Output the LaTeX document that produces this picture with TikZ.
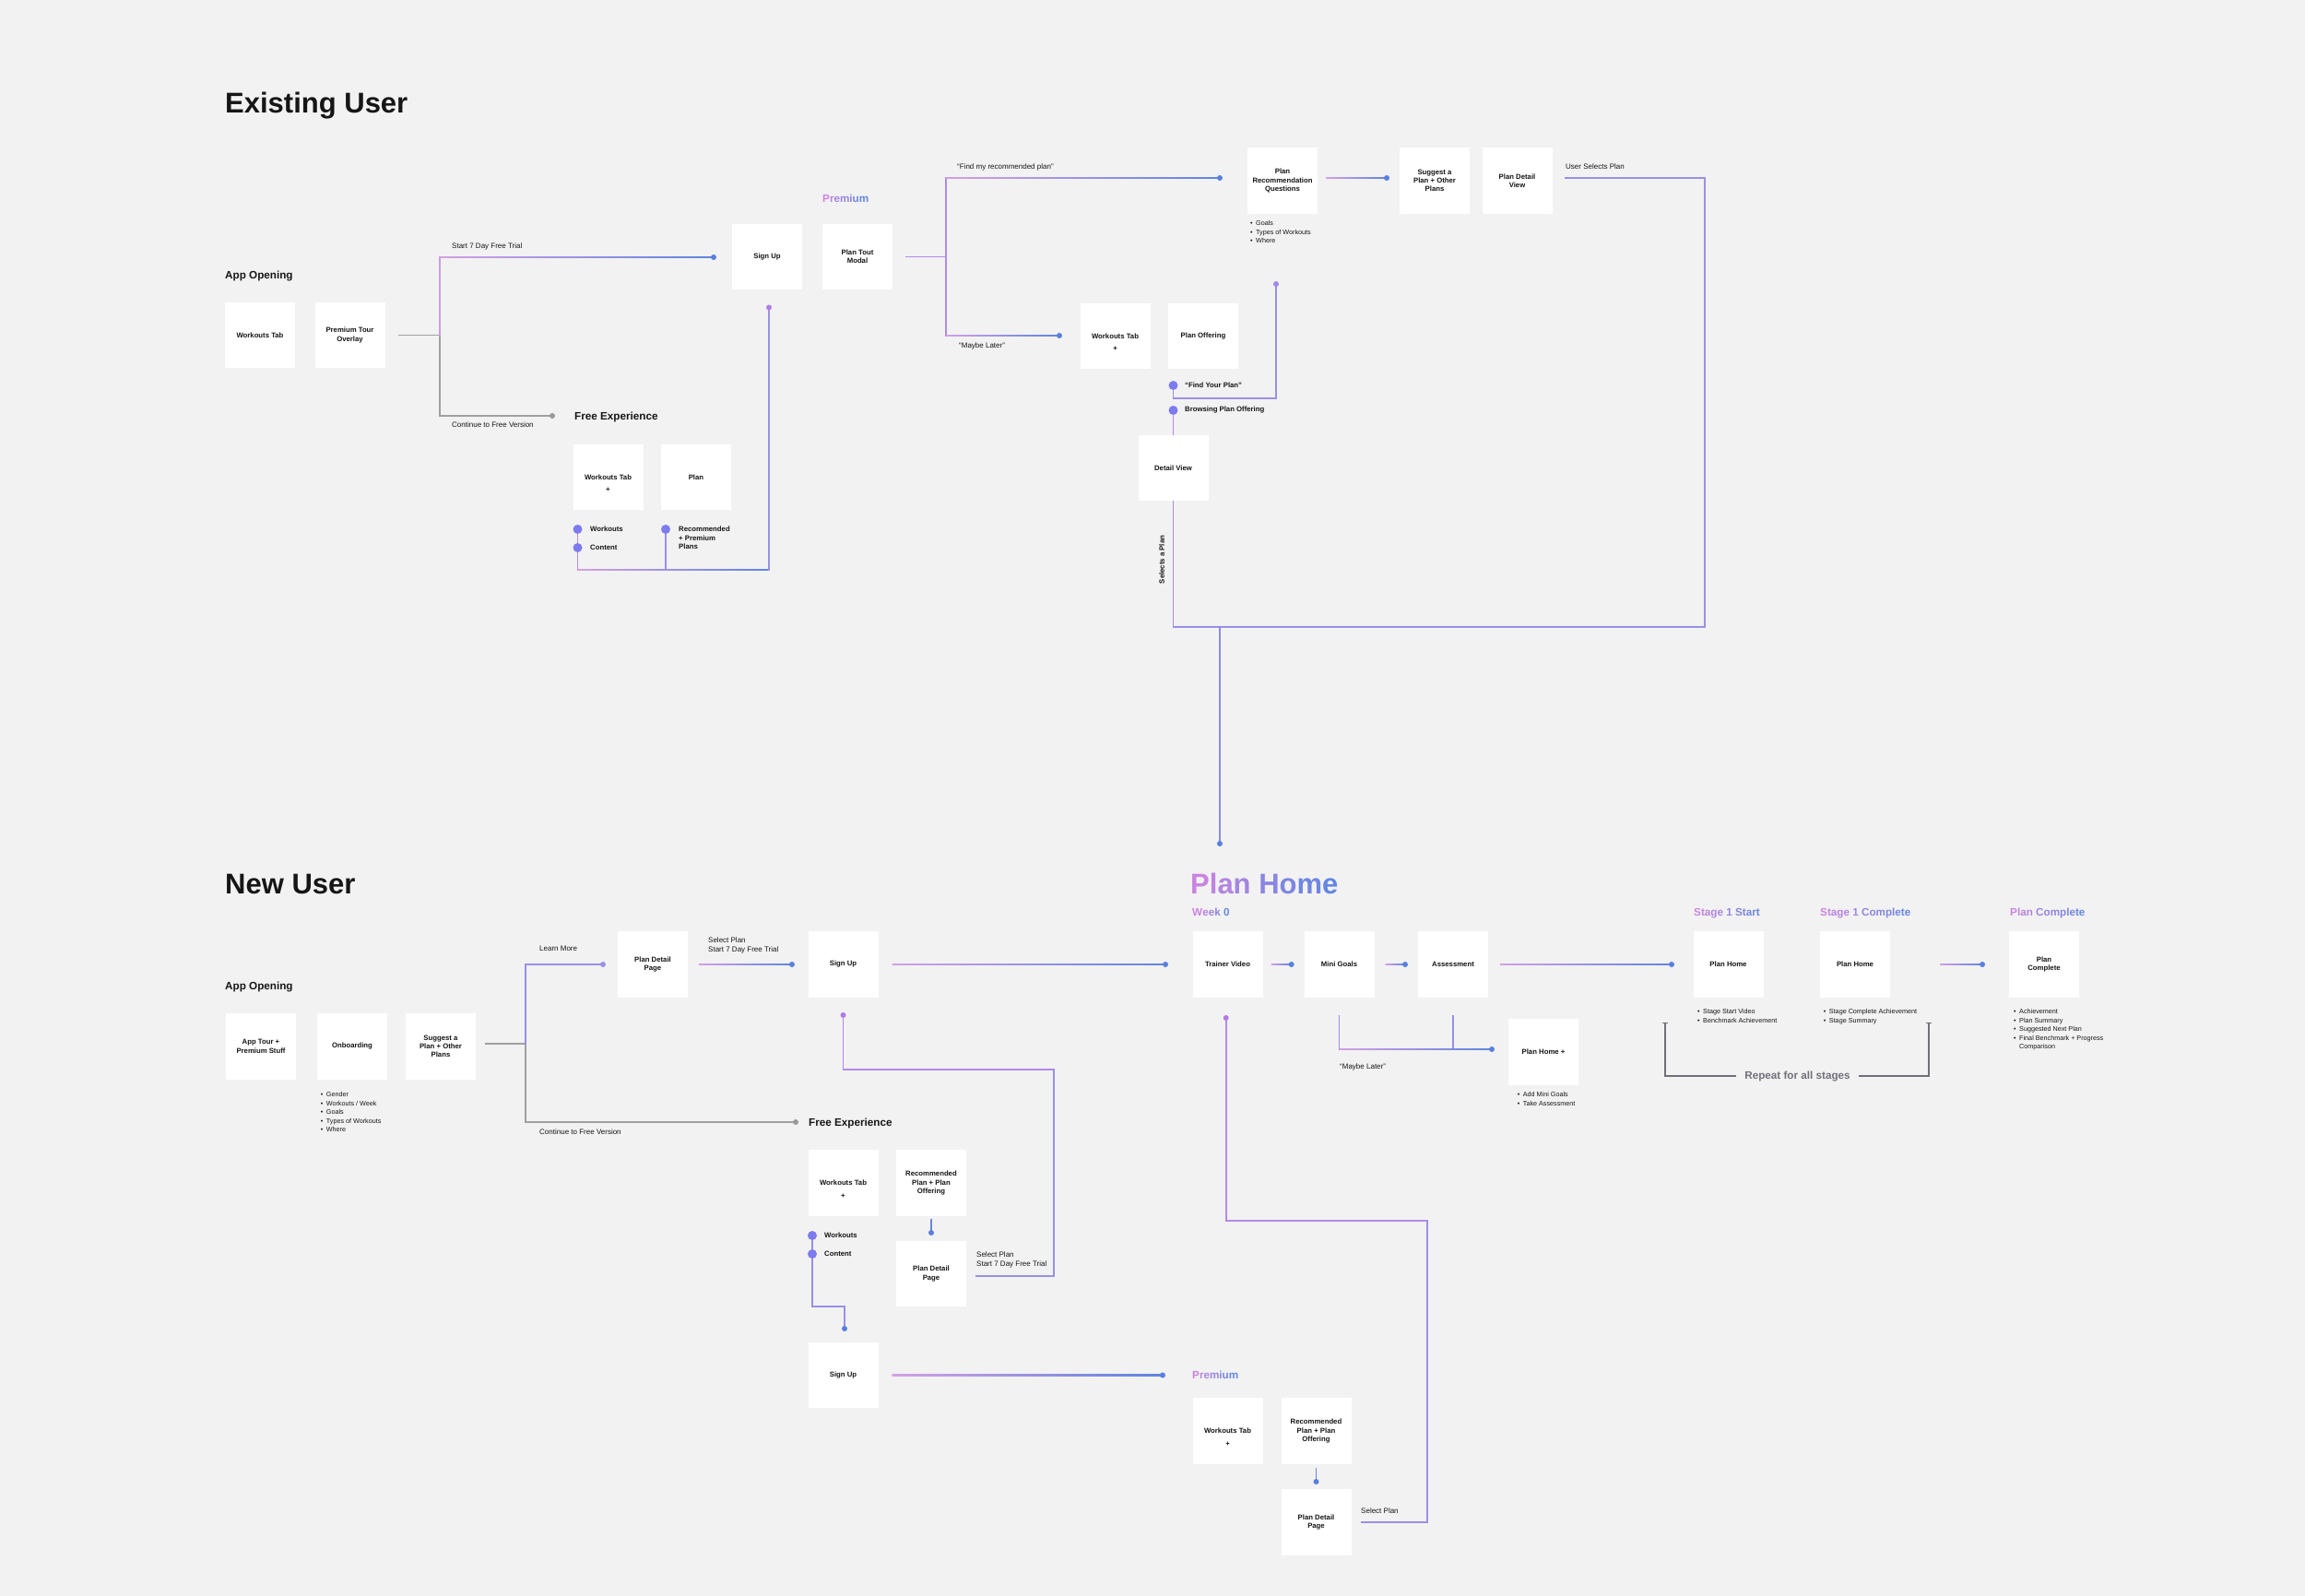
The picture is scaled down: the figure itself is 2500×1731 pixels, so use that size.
\documentclass[tikz,border=0pt]{standalone}
\usepackage{fontspec}
\setmainfont{Liberation Sans}
\usetikzlibrary{calc}
\definecolor{bg}{HTML}{F2F2F2}
\definecolor{gpk}{HTML}{D3A0E5}
\definecolor{gbl}{HTML}{5F84DF}
\definecolor{lav}{HTML}{9A90E6}
\definecolor{pur}{HTML}{B48AE6}
\definecolor{dblue}{HTML}{5A80DE}
\definecolor{dpur}{HTML}{B07CE6}
\definecolor{bigd}{HTML}{7E7BEE}
\definecolor{gline}{HTML}{A0A0A0}
\definecolor{gdot}{HTML}{999999}
\definecolor{rgray}{HTML}{70707A}
\definecolor{ink}{HTML}{161616}
\definecolor{tpk}{HTML}{CB84E0}
\definecolor{tbl}{HTML}{6486E2}
\newcommand\fBox{\bfseries\fontsize{7.75}{9.3}\selectfont}
\newcommand\fLbl{\fontsize{8}{9.3}\selectfont}
\newcommand\fBul{\fontsize{7.2}{9.5}\selectfont}
\newcommand\fSec{\bfseries\fontsize{11.7}{14}\selectfont}
\newcommand\fTtl{\bfseries\fontsize{31}{36}\selectfont}
\ExplSyntaxOn
\int_new:N \l__gt_i_int
\int_new:N \l__gt_n_int
\NewDocumentCommand \gradtext { m }
  {
    \int_set:Nn \l__gt_n_int { \str_count:n {#1} - 1 }
    \int_compare:nNnT { \l__gt_n_int } < { 1 } { \int_set:Nn \l__gt_n_int { 1 } }
    \int_zero:N \l__gt_i_int
    \str_map_inline:nn {#1}
      {
        \str_if_eq:nnTF { ##1 } { ~ }
          { \c_space_tl }
          { \textcolor { tpk!\int_eval:n { 100 - (100 * \l__gt_i_int) / \l__gt_n_int }!tbl } {##1} }
        \int_incr:N \l__gt_i_int
      }
  }
\ExplSyntaxOff
\newcommand\gradline[3]{\shade[left color=gpk,right color=gbl] ($(#1)+(#2,-0.8)$) rectangle ($(#3)+(0,0.8)$);}
\newcommand\smalldot[2]{\fill[#1] (#2) circle (3pt);}
\newcommand\bigdot[1]{\fill[bigd] (#1) circle (5pt);}
\tikzset{
 box/.style={fill=white, minimum width=76pt, minimum height=71.5pt, inner sep=0pt, align=center, font=\fBox, text=ink},
 plus/.style={inner sep=0pt, font=\fBox, text=ink},
 lbl/.style={anchor=west, inner sep=0pt, font=\fLbl, text=ink},
 blbl/.style={anchor=west, inner sep=0pt, font=\fBox, text=ink},
 mlbl/.style={anchor=base west, inner sep=0pt, font=\fLbl, text=ink},
 blist/.style={anchor=base west, inner sep=0pt, font=\fBul, text=ink},
 sec/.style={anchor=base west, inner sep=0pt, font=\fSec, text=ink},
 ttl/.style={anchor=base west, inner sep=0pt, font=\fTtl, text=ink},
 conn/.style={line width=1.6pt, line cap=rect},
}
\begin{document}
\begin{tikzpicture}[x=1pt,y=-1pt]
\fill[bg] (0,0) rectangle (2500,1731);
\useasboundingbox (0,0) rectangle (2500,1731);

% ================= EXISTING USER =================
\node[ttl] (t1) at (244,123) {Existing User};
\node[sec] (ao1) at (244,302) {App Opening};
\node[box] (wt1) at (282,363.5) {Workouts Tab};
\node[box] (pto) at (379.5,363.5) {Premium Tour\\Overlay};
\node[box] (su1) at (832,278.5) {Sign Up};
\node[box] (ptm) at (930,278.5) {Plan Tout\\Modal};
\node[sec] (prem1) at (892,219) {\gradtext{Premium}};
\node[sec] (fe1) at (623,455) {Free Experience};
\node[box] (fwt) at (659.5,517.5) {Workouts Tab};
\node[plus] (fwtp) at ($(fwt.center)+(0,14)$) {+};
\node[box] (fpl) at (755,517.5) {Plan};

\coordinate (j1) at (477,363.5);
\coordinate (j1t) at (477,279);
\coordinate (j1b) at (477,451);
\coordinate (dsu1) at (774,279);
\coordinate (dfe1) at (599,451);
\draw[conn,gline] ($(pto.east)+(15,0)$) -- (j1) -- (j1b) -- (dfe1);
\draw[conn,gpk!80!lav] (j1) -- (j1t);
\gradline{j1t}{0}{dsu1}
\smalldot{dblue}{dsu1}
\smalldot{gdot}{dfe1}
\node[lbl] (l1) at (490,267) {Start 7 Day Free Trial};
\node[lbl] (l2) at (490,461) {Continue to Free Version};

% free experience loop
\coordinate (dsu1b) at ($(su1.south)+(2,19)$);
\coordinate (bw1) at (626.5,574);
\coordinate (bc1) at (626.5,594);
\coordinate (bp1) at (722,574);
\coordinate (fl) at (626.5,618);
\coordinate (fm) at (722,618);
\coordinate (fr) at (834,618);
\draw[conn,pur] (bw1) -- (bc1) -- (fl);
\draw[conn,lav] (bp1) -- (fm);
\gradline{fl}{0}{fr}
\draw[conn,lav] (fr) -- (dsu1b);
\smalldot{dpur}{dsu1b}
\bigdot{bw1} \bigdot{bc1} \bigdot{bp1}
\node[blbl] (lw1) at (640,574) {Workouts};
\node[blbl] (lc1) at (640,594) {Content};
\node[blbl,anchor=base west] (lr1) at (736,576.7) {\begin{tabular}[t]{@{}l@{}}Recommended\\+ Premium\\Plans\end{tabular}};

% premium branch
\node[box] (pwt) at (1209.5,364.5) {Workouts Tab};
\node[plus] (pwtp) at ($(pwt.center)+(0,14)$) {+};
\node[box] (pof) at (1305,364.5) {Plan Offering};
\node[box] (prq) at (1391,196) {Plan\\Recommendation\\Questions};
\node[box] (sug) at (1556,196) {Suggest a\\Plan + Other\\Plans};
\node[box] (pdv) at (1645.5,196) {Plan Detail\\View};
\node[box] (dv) at (1272.5,507.5) {Detail View};

\coordinate (j2) at (1026,278.5);
\coordinate (j2t) at (1026,193);
\coordinate (j2b) at (1026,364);
\coordinate (dprq) at (1323,193);
\coordinate (dpwt) at (1149,364);
\draw[conn,pur] ($(ptm.east)+(15,0)$) -- (j2);
\draw[conn,pur!70!lav] (j2t) -- (j2b);
\gradline{j2t}{0}{dprq}
\gradline{j2b}{0}{dpwt}
\smalldot{dblue}{dprq}
\smalldot{dblue}{dpwt}
\node[lbl] (l3) at (1038,181) {“Find my recommended plan”};
\node[lbl] (l4) at (1040,375) {“Maybe Later”};

\node[blist] (bl1) at (1356,244.6) {\begin{tabular}[t]{@{}l@{\hspace{3.5pt}}l@{}}\textbullet&Goals\\\textbullet&Types of Workouts\\\textbullet&Where\end{tabular}};

\coordinate (sprq) at ($(prq.east)+(9,-3)$);
\coordinate (dsug) at (1504,193);
\gradline{sprq}{0}{dsug}
\smalldot{dblue}{dsug}

\coordinate (spdv) at ($(pdv.east)+(14,-3)$);
\coordinate (jr) at (1849,680);
\coordinate (jl) at (1272.5,680);
\coordinate (jm) at (1323,680);
\coordinate (dph) at (1323,915);
\draw[conn,lav] (spdv) -| (jr) -- (jl);
\draw[conn,pur!70!lav] (dv.south) -- (jl);
\draw[conn,lav!70!gbl] (jm) -- (dph);
\smalldot{dblue}{dph}
\node[lbl] (l5) at (1698,181) {User Selects Plan};

\coordinate (bfy) at (1272.5,418);
\coordinate (bbr) at (1272.5,445);
\coordinate (dprqb) at (1384,308);
\draw[conn,lav] (bfy) -- ++(0,14) -| (dprqb);
\draw[conn,pur] (bbr) -- (dv.north);
\smalldot{lav!60!dpur}{dprqb}
\bigdot{bfy} \bigdot{bbr}
\node[blbl] (l6) at (1285,418) {“Find Your Plan”};
\node[blbl] (l7) at (1285,445) {Browsing Plan Offering};
\node[blbl,anchor=center,rotate=90] (l8) at (1260,607) {Selects a Plan};

% ================= NEW USER =================
\node[ttl] (t2) at (244,969) {New User};
\node[ttl] (t3) at (1291,969) {\gradtext{Plan Home}};
\node[sec] (ao2) at (244,1073) {App Opening};
\node[box] (at) at (283,1135) {App Tour +\\Premium Stuff};
\node[box] (onb) at (382,1135) {Onboarding};
\node[box] (sug2) at (478,1135) {Suggest a\\Plan + Other\\Plans};
\node[blist] (bl2) at (347.7,1189.6) {\begin{tabular}[t]{@{}l@{\hspace{3.5pt}}l@{}}\textbullet&Gender\\\textbullet&Workouts / Week\\\textbullet&Goals\\\textbullet&Types of Workouts\\\textbullet&Where\end{tabular}};

\coordinate (j3) at (570,1132);
\coordinate (j3t) at (570,1046);
\coordinate (j3b) at (570,1217);
\coordinate (dpdp) at (654,1046);
\coordinate (dfe2) at (863,1217);
\draw[conn,gline] ($(sug2.east)+(11,-3)$) -- (j3) -- (j3b) -- (dfe2);
\draw[conn,lav] (j3) -- (j3t) -- (dpdp);
\smalldot{lav}{dpdp}
\smalldot{gdot}{dfe2}
\node[lbl] (l9) at (585,1029) {Learn More};
\node[lbl] (l10) at (585,1228) {Continue to Free Version};

\node[box] (pdp) at (708,1046) {Plan Detail\\Page};
\node[box] (su2) at (914.5,1046) {Sign Up};
\coordinate (dsu2) at (859,1046);
\gradline{pdp.east}{12}{dsu2}
\smalldot{dblue}{dsu2}
\node[mlbl] (l11) at (768,1022.8) {\begin{tabular}[t]{@{}l@{}}Select Plan\\Start 7 Day Free Trial\end{tabular}};

\coordinate (dtv) at (1264,1046);
\gradline{su2.east}{15}{dtv}
\smalldot{dblue}{dtv}

\node[sec] (fe2) at (877,1221) {Free Experience};
\node[box] (fwt2) at (914.5,1283) {Workouts Tab};
\node[plus] (fwt2p) at ($(fwt2.center)+(0,14)$) {+};
\node[box] (rpo) at (1010,1283) {Recommended\\Plan + Plan\\Offering};
\node[box] (pdp2) at (1010,1381.5) {Plan Detail\\Page};
\node[box] (su3) at (914.5,1491.5) {Sign Up};

\coordinate (dsu2b) at ($(su2.south)+(0,19)$);
\coordinate (k2) at (1143,1160);
\coordinate (k4) at ($(pdp2.east)+(11,2.5)$);
\draw[conn,pur] (dsu2b) |- (k2);
\draw[conn,lav] (k2) |- (k4);
\smalldot{dpur}{dsu2b}
\node[mlbl] (l12) at (1059,1363.8) {\begin{tabular}[t]{@{}l@{}}Select Plan\\Start 7 Day Free Trial\end{tabular}};

\coordinate (drpo) at (1010,1337);
\draw[conn,gbl!80!lav] ($(rpo.south)+(0,4)$) -- (drpo);
\smalldot{dblue}{drpo}

\coordinate (bw2) at (881,1340);
\coordinate (bc2) at (881,1360);
\coordinate (m1) at (881,1417);
\coordinate (dsu3t) at (916,1441);
\draw[conn,lav] (bw2) -- (bc2) -- (m1) -| (dsu3t);
\smalldot{dblue}{dsu3t}
\bigdot{bw2} \bigdot{bc2}
\node[blbl] (lw2) at (894,1340) {Workouts};
\node[blbl] (lc2) at (894,1360) {Content};

\coordinate (dprem) at (1261,1491.5);
\gradline{su3.east}{15}{dprem}
\smalldot{dblue}{dprem}

\node[sec] (prem2) at (1293,1495) {\gradtext{Premium}};
\node[box] (pwt2) at (1331.5,1552) {Workouts Tab};
\node[plus] (pwt2p) at ($(pwt2.center)+(0,14)$) {+};
\node[box] (rpo2) at (1427.5,1552) {Recommended\\Plan + Plan\\Offering};
\node[box] (pdp3) at (1427.5,1651) {Plan Detail\\Page};
\coordinate (drpo2) at (1427.5,1607);
\draw[conn,gbl!80!lav] ($(rpo2.south)+(0,5)$) -- (drpo2);
\smalldot{dblue}{drpo2}
\node[lbl] (l13) at (1476,1639) {Select Plan};

% plan home row
\node[sec] (wk) at (1293,993) {\gradtext{Week 0}};
\node[box] (tv) at (1331.5,1046) {Trainer Video};
\node[box] (mg) at (1452.5,1046) {Mini Goals};
\node[box] (as) at (1576,1046) {Assessment};
\node[box] (php) at (1674,1141) {Plan Home +};
\node[blist] (bl3) at (1645.7,1189.6) {\begin{tabular}[t]{@{}l@{\hspace{3.5pt}}l@{}}\textbullet&Add Mini Goals\\\textbullet&Take Assessment\end{tabular}};

\coordinate (dtvb) at ($(tv.south)+(-1.8,22)$);
\coordinate (n1) at (1548,1324);
\coordinate (n2) at ($(pdp3.east)+(11,0)$);
\draw[conn,pur] (dtvb) |- (n1);
\draw[conn,lav] (n1) |- (n2);
\smalldot{dpur}{dtvb}

\coordinate (dmg) at (1400.7,1046);
\gradline{tv.east}{9}{dmg}
\smalldot{dblue}{dmg}
\coordinate (das) at (1524,1046);
\gradline{mg.east}{12}{das}
\smalldot{dblue}{das}
\coordinate (dph1) at (1813,1046);
\gradline{as.east}{13}{dph1}
\smalldot{dblue}{dph1}

\coordinate (q1) at ($(mg.south)+(0,20)$);
\coordinate (q2) at (1452.5,1138);
\coordinate (q3) at ($(as.south)+(0,20)$);
\coordinate (q4) at (1576,1138);
\coordinate (dphp) at (1618,1138);
\draw[conn,lav] (q1) -- (q2);
\draw[conn,lav] (q3) -- (q4);
\gradline{q2}{0}{dphp}
\smalldot{dblue}{dphp}
\node[lbl] (l14) at (1453,1157) {“Maybe Later”};

\node[sec] (st1) at (1837,993) {\gradtext{Stage 1 Start}};
\node[sec] (st2) at (1974,993) {\gradtext{Stage 1 Complete}};
\node[sec] (st3) at (2180,993) {\gradtext{Plan Complete}};
\node[box] (ph1) at (1874.5,1046) {Plan Home};
\node[box] (ph2) at (2012,1046) {Plan Home};
\node[box] (pc) at (2217,1046) {Plan\\Complete};
\coordinate (dpc) at (2150,1046);
\gradline{ph2.east}{54}{dpc}
\smalldot{dblue}{dpc}

\node[blist] (bl4) at (1841,1099.6) {\begin{tabular}[t]{@{}l@{\hspace{3.5pt}}l@{}}\textbullet&Stage Start Video\\\textbullet&Benchmark Achievement\end{tabular}};
\node[blist] (bl5) at (1977.7,1099.6) {\begin{tabular}[t]{@{}l@{\hspace{3.5pt}}l@{}}\textbullet&Stage Complete Achievement\\\textbullet&Stage Summary\end{tabular}};
\node[blist] (bl6) at (2184,1099.6) {\begin{tabular}[t]{@{}l@{\hspace{3.5pt}}l@{}}\textbullet&Achievement\\\textbullet&Plan Summary\\\textbullet&Suggested Next Plan\\\textbullet&Final Benchmark + Progress\\&Comparison\end{tabular}};

% repeat bracket
\node[sec,anchor=center,text=rgray] (rep) at (1949.5,1167) {Repeat for all stages};
\coordinate (rl) at (1806,1109);
\coordinate (rr) at (2092,1109);
\draw[line width=1.4pt,rgray] (rl) |- ($(rep.west)+(-9,0)$);
\draw[line width=1.4pt,rgray] (rr) |- ($(rep.east)+(9,0)$);
\draw[line width=1pt,rgray] ($(rl)+(-3,0)$) -- ($(rl)+(3,0)$);
\draw[line width=1pt,rgray] ($(rr)+(-3,0)$) -- ($(rr)+(3,0)$);
\end{tikzpicture}
\end{document}
